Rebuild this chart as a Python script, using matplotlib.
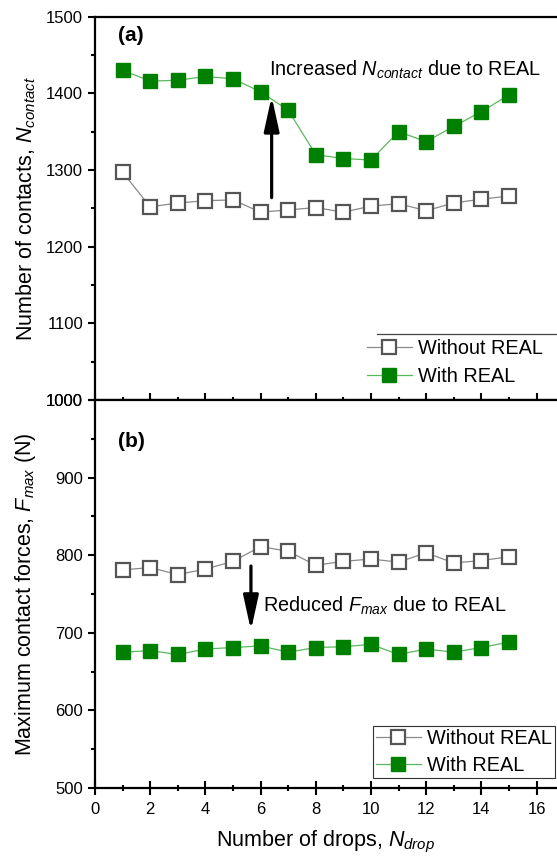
import matplotlib.pyplot as plt
from matplotlib.lines import Line2D

plt.rcParams['font.family'] = ['Liberation Sans', 'DejaVu Sans']
plt.rcParams['mathtext.fontset'] = 'custom'
plt.rcParams['mathtext.rm'] = 'Liberation Sans'
plt.rcParams['mathtext.it'] = 'Liberation Sans:italic'

#---------------------------------------------------------------------
# data: number of drops vs contacts / max contact force
#---------------------------------------------------------------------
drops = [1, 2, 3, 4, 5, 6, 7, 8, 9, 10, 11, 12, 13, 14, 15]

contacts_without = [1297, 1252, 1257, 1260, 1261, 1245, 1248, 1251, 1245, 1253,
                    1256, 1247, 1257, 1262, 1266]
contacts_with = [1430, 1416, 1417, 1422, 1419, 1402, 1378, 1320, 1315, 1313,
                 1350, 1337, 1357, 1376, 1398]

fmax_without = [781, 784, 775, 782, 792, 811, 805, 787, 792, 795,
                791, 803, 790, 793, 798]
fmax_with = [675, 677, 672, 679, 681, 683, 675, 681, 682, 685,
             672, 679, 675, 681, 688]

GREEN = '#008000'
GREEN_LINE = '#5cb85c'
GREY = '#555555'
GREY_LINE = '#8a8a8a'

LABEL_FS = 15.5
TEXT_FS = 14.3
TICK_FS = 12

fig = plt.figure(figsize=(5.57, 8.59), dpi=100)
ax1 = fig.add_axes([0.1706, 0.5343, 0.8294, 0.4463])
ax2 = fig.add_axes([0.1706, 0.0827, 0.8294, 0.4517])

ARROW = dict(arrowstyle='-|>,head_length=1.05,head_width=0.23', lw=2.3,
             color='black', mutation_scale=20, shrinkA=0, shrinkB=0)


def style_axis(ax, ylo, yhi):
    ax.set_xlim(0, 16.74)
    ax.set_ylim(ylo, yhi)
    ax.set_xticks(range(0, 17, 2))
    ax.set_xticks(range(1, 17, 2), minor=True)
    ax.set_yticks(range(ylo, yhi + 1, 100))
    ax.set_yticks(range(ylo + 50, yhi, 100), minor=True)
    ax.tick_params(axis='x', which='major', direction='inout', length=10, width=1.5,
                   labelsize=TICK_FS, pad=5)
    ax.tick_params(axis='x', which='minor', direction='inout', length=5, width=1.5)
    ax.tick_params(axis='y', which='major', direction='out', length=5, width=1.5,
                   labelsize=TICK_FS)
    ax.tick_params(axis='y', which='minor', direction='out', length=3, width=1.5)
    for s in ['left', 'bottom', 'top']:
        ax.spines[s].set_linewidth(1.6)
    ax.spines['right'].set_visible(False)


# (a) number of contacts
ax1.plot(drops, contacts_without, color=GREY_LINE, lw=0.9, marker='s', ms=9.5,
         mfc='white', mec=GREY, mew=1.6, label='Without REAL', zorder=3)
ax1.plot(drops, contacts_with, color=GREEN_LINE, lw=0.9, marker='s', ms=9.5,
         mfc=GREEN, mec=GREEN, mew=1, label='With REAL', zorder=3)
style_axis(ax1, 1000, 1500)
ax1.tick_params(axis='x', labelbottom=False)
ax1.set_ylabel('Number of contacts, $N_{contact}$', fontsize=LABEL_FS, labelpad=6)
ax1.text(0.83, 1476, '(a)', fontsize=15, fontweight='bold', va='center')
ax1.annotate('', xy=(6.4, 1396), xytext=(6.4, 1264), arrowprops=ARROW)
ax1.text(6.3, 1430, 'Increased $N_{contact}$ due to REAL', fontsize=TEXT_FS,
         va='center')
leg1 = ax1.legend(loc='lower right', bbox_to_anchor=(1.0, 0.0), frameon=False,
                  fontsize=TEXT_FS, handlelength=2.3, handletextpad=0.3,
                  labelspacing=0.45, borderaxespad=0.3)
ax1.add_line(Line2D([0.61, 1.0], [0.171, 0.171], transform=ax1.transAxes,
                    color='#444444', lw=0.9))

# (b) maximum contact force
ax2.plot(drops, fmax_without, color=GREY_LINE, lw=0.9, marker='s', ms=9.5,
         mfc='white', mec=GREY, mew=1.6, label='Without REAL', zorder=3)
ax2.plot(drops, fmax_with, color=GREEN_LINE, lw=0.9, marker='s', ms=9.5,
         mfc=GREEN, mec=GREEN, mew=1, label='With REAL', zorder=3)
style_axis(ax2, 500, 1000)
ax2.set_xlabel('Number of drops, $N_{drop}$', fontsize=LABEL_FS, labelpad=9)
ax2.set_ylabel('Maximum contact forces, $F_{max}$ (N)', fontsize=LABEL_FS,
               labelpad=6)
ax2.text(0.83, 946, '(b)', fontsize=15, fontweight='bold', va='center')
ax2.annotate('', xy=(5.65, 703), xytext=(5.65, 786), arrowprops=ARROW)
ax2.text(6.08, 735, 'Reduced $F_{max}$ due to REAL', fontsize=TEXT_FS, va='center')
leg2 = ax2.legend(loc='lower right', bbox_to_anchor=(0.996, 0.026), fontsize=TEXT_FS,
                  handlelength=2.3, handletextpad=0.3, labelspacing=0.4,
                  borderaxespad=0, fancybox=False, framealpha=1,
                  edgecolor='#333333', borderpad=0.15)
leg2.get_frame().set_linewidth(0.8)

fig.savefig('out.png', dpi=100)
